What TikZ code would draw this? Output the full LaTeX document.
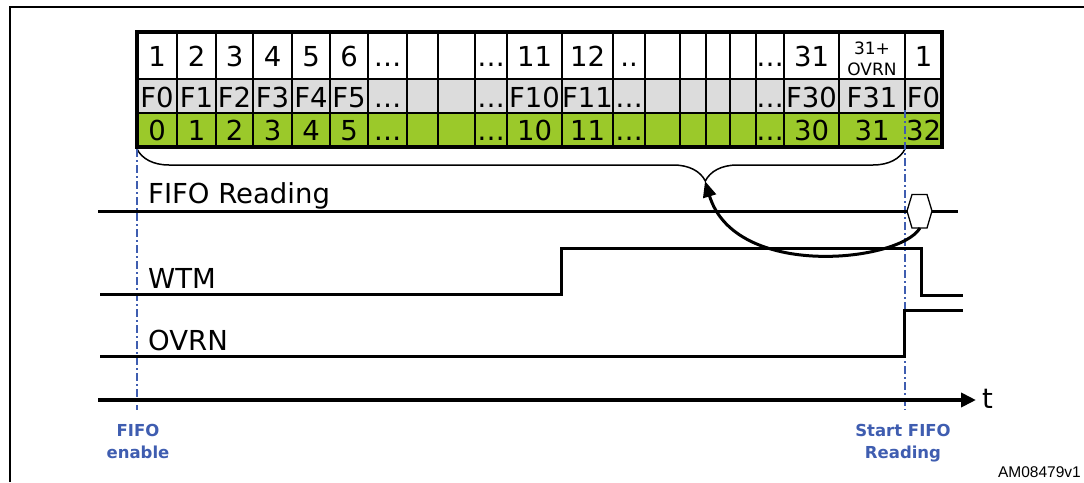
\documentclass[tikz,border=0pt]{standalone}
\usepackage{fontspec}
\setmainfont{DejaVu Sans}
\newfontfamily\codefont{Liberation Sans}
\usetikzlibrary{arrows.meta,decorations.pathreplacing}

\definecolor{cellgreen}{RGB}{155,201,42}
\definecolor{cellgray}{RGB}{220,220,220}
\definecolor{markblue}{RGB}{63,93,176}

\tikzset{
    cell/.style={draw=black, line width=1.5pt},
    celltext/.style={inner sep=0pt, anchor=base, font=\fontsize{27.5}{33}\selectfont},
    sig/.style={line width=3pt},
    marker/.style={markblue, line width=2pt, dash pattern=on 8pt off 3pt on 2pt off 3pt},
    markerlabel/.style={markblue, inner sep=0pt, anchor=north, align=center,
        font=\fontsize{16.5}{22.5}\selectfont\bfseries},
    siglabel/.style={inner sep=0pt, anchor=base west, font=\fontsize{27.5}{33}\selectfont},
}

\begin{document}
\begin{tikzpicture}[x=1pt, y=-1pt]
    \useasboundingbox (0,0) rectangle (1084,482);
    % Frame
    \draw[line width=2pt] (10,482) -- (10,7) -- (1084,7);

    % FIFO cells: sample / slot / level
    \foreach \xa/\xb/\labA/\labB/\labC [count=\i] in {
        137/177/1/F0/0, 177/216/2/F1/1, 216/253/3/F2/2, 253/292/4/F3/3,
        292/330/5/F4/4, 330/368/6/F5/5, 368/407/\ldots/\ldots/\ldots,
        407/438/{}/{}/{}, 438/475/{}/{}/{}, 475/507/\ldots/\ldots/\ldots,
        507/562/11/F10/10, 562/613/12/F11/11, 613/645/../\ldots/\ldots,
        645/680/{}/{}/{}, 680/706/{}/{}/{}, 706/730/{}/{}/{}, 730/756/{}/{}/{},
        756/784/\ldots/\ldots/\ldots, 784/839/31/F30/30, 839/905/{}/F31/31,
        905/942/1/F0/32} {
        \fill[white] (\xa,32) rectangle (\xb,79);
        \fill[cellgray] (\xa,79) rectangle (\xb,113);
        \fill[cellgreen] (\xa,113) rectangle (\xb,147);
        \draw[cell] (\xa,32) rectangle (\xb,79);
        \draw[cell] (\xa,79) rectangle (\xb,113);
        \draw[cell] (\xa,113) rectangle (\xb,147);
        \node[celltext] (s\i) at ({(\xa+\xb)/2},66.5) {\labA};
        \node[celltext] (f\i) at ({(\xa+\xb)/2},107) {\labB};
        \node[celltext] (l\i) at ({(\xa+\xb)/2},140) {\labC};
    }
    \node[inner sep=0pt, align=center, font=\fontsize{17}{21.5}\selectfont] (ovrncell) at (872,59) {31+\\OVRN};
    % no cell edge under the start marker
    \draw[cellgreen, line width=2pt] (905,114.5) -- (905,145.5);
    \draw[line width=3.5pt] (137,32) rectangle (942,147);

    % Brace over the stored samples
    \draw[line width=1.5pt, decorate, decoration={brace, mirror, amplitude=32pt, aspect=0.74}]
        (137,149) -- (905,149);
    \coordinate (tip) at (705,181);

    % Markers
    \draw[marker] (137,149) -- (137,410);
    \draw[marker] (905,110) -- (905,410);
    \node[markerlabel] (enable) at (138,424) {FIFO\\enable};
    \node[markerlabel] (start) at (903,424) {Start FIFO\\Reading};

    % Signals
    \draw[sig] (98,211) -- (958,211);
    \draw[sig] (100,294) -- (561,294) -- (561,248) -- (921,248) -- (921,295) -- (963,295);
    \draw[sig] (100,356) -- (904,356) -- (904,310) -- (963,310);
    \node[siglabel] (rd) at (148,203) {FIFO Reading};
    \node[siglabel] (wtm) at (148,288) {WTM};
    \node[siglabel] (ovrn) at (148,350) {OVRN};

    % Read burst
    \draw[line width=1.3pt, fill=white] (907,211) -- (912,194.5) -- (927,194.5) -- (932,211)
        -- (927,228) -- (912,228) -- cycle;
    \coordinate (hexbot) at (920,228);
    \draw[sig, -{Triangle[length=16pt,width=13pt]}] (hexbot) .. controls (900,262) and (735,280) .. (tip);

    % Time axis
    \draw[line width=4pt, -{Triangle[length=15pt,width=14pt]}] (98,400) -- (976,400);
    \node[siglabel] (t) at (982,408) {t};

    \node[inner sep=0pt, anchor=east, font=\codefont\fontsize{15.5}{18}\selectfont] (am) at (1081,472) {AM08479v1};
\end{tikzpicture}
\end{document}
